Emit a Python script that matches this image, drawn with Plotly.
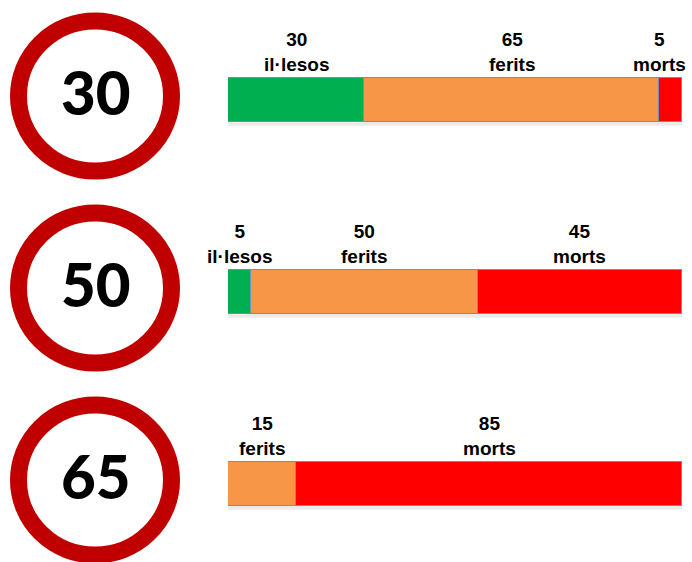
import plotly.graph_objects as go

# Speed limits (km/h) and outcome shares (%) for a pedestrian hit at that speed
speeds = ["30", "50", "65"]
categories = ["il·lesos", "ferits", "morts"]
illesos = [30, 5, None]
ferits = [65, 50, 15]
morts = [5, 45, 85]
series = [illesos, ferits, morts]
colors = ["#00B050", "#F79646", "#FF0000"]

W, H = 692, 562
rows = list(range(len(speeds)))
row_px = 192.0           # vertical spacing between rows
first_px = 100.0         # centre of the first bar from the top
bar_px = 44.0
y_top = -first_px / row_px
y_bottom = y_top + H / row_px
bar_w = bar_px / row_px

fig = go.Figure()
for name, vals, col in zip(categories, series, colors):
    fig.add_trace(go.Bar(
        y=rows, x=vals, name=name, orientation="h",
        width=bar_w, marker=dict(color=col, line=dict(color="#6D8FC4", width=1)),
        showlegend=False, hoverinfo="skip",
    ))

annotations = []
shapes = []
label_font = dict(family="Liberation Sans, Arial, sans-serif", size=19, color="#000000")

for r in rows:
    # soft shadow under each bar
    total = sum(s[r] for s in series if s[r] is not None)
    shapes.append(dict(
        type="rect", xref="x", yref="y", x0=0, x1=total,
        y0=r + bar_w / 2, y1=r + bar_w / 2 + 0.02,
        line=dict(width=0), fillcolor="rgba(0,0,0,0.08)", layer="below",
    ))
    # segment labels above the bar
    start = 0
    for name, vals in zip(categories, series):
        v = vals[r]
        if v is None:
            continue
        mid = start + v / 2
        ann = dict(
            x=mid, y=r - bar_w / 2, xref="x", yref="y",
            text=f"<b>{v}</b><br><b>{name}</b>", showarrow=False,
            xanchor="center", yanchor="bottom", yshift=1,
            font=label_font, align="center",
        )
        if start + v >= 100 and v < 10:
            ann.update(x=start + v, xanchor="right", xshift=6, align="center")
        annotations.append(ann)
        start += v

    # speed limit sign
    shapes.append(dict(
        type="circle", xref="paper", yref="y",
        xsizemode="pixel", ysizemode="pixel",
        xanchor=95 / W, yanchor=r,
        x0=-76.5, x1=76.5, y0=-75 + 4, y1=75 + 4,
        line=dict(color="#C00000", width=17), fillcolor="#FFFFFF",
    ))
    annotations.append(dict(
        x=96 / W, y=r, xref="paper", yref="y", yshift=8,
        text=speeds[r], showarrow=False,
        xanchor="center", yanchor="middle",
        font=dict(family="Lato, Open Sans, sans-serif", size=60, color="#000000", weight=900),
    ))

fig.update_layout(
    width=W, height=H,
    margin=dict(l=0, r=0, t=0, b=0),
    paper_bgcolor="#FFFFFF", plot_bgcolor="#FFFFFF",
    barmode="stack", bargap=0,
    xaxis=dict(domain=[228 / W, 682 / W], range=[0, 100], visible=False, fixedrange=True),
    yaxis=dict(domain=[0, 1], range=[y_bottom, y_top], visible=False, fixedrange=True),
    shapes=shapes, annotations=annotations,
)

fig.write_html("out.html")
